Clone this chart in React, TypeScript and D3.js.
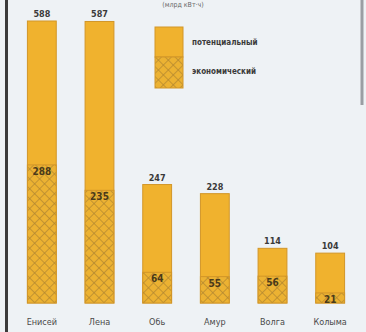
import React from "react";
import * as d3 from "d3";

const rivers = ["Енисей", "Лена", "Обь", "Амур", "Волга", "Колыма"];
const potential = [588, 587, 247, 228, 114, 104];
const economic = [288, 235, 64, 55, 56, 21];
const legendLabels = ["потенциальный", "экономический"];

const W = 366;
const H = 332;
const FONT = "'Liberation Sans Narrow', 'DejaVu Sans Condensed', 'Liberation Sans', sans-serif";

export default function App() {
  const x = d3.scaleBand<string>().domain(rivers).range([13, 359]).paddingInner(0.5).paddingOuter(0.25);
  const y = d3.scaleLinear().domain([0, 588]).range([303, 21]);
  const bw = x.bandwidth();
  const fill = "#f0b22e";
  const edge = "#d29628";

  return (
    <div style={{ position: "absolute", left: 0, top: 0 }}>
      <svg width={W} height={H} style={{ display: "block" }}>
        <defs>
          <pattern id="hatch" patternUnits="userSpaceOnUse" width={7} height={7} patternTransform="rotate(45)">
            <rect width={7} height={7} fill="#ecb232" />
            <line x1={0} y1={0} x2={0} y2={7} stroke="#b08530" strokeWidth={1.4} />
            <line x1={0} y1={0} x2={7} y2={0} stroke="#b08530" strokeWidth={1.4} />
          </pattern>
        </defs>
        <rect width={W} height={H} fill="#eef2f5" />
        <line x1={6.5} x2={6.5} y1={0} y2={H} stroke="#3b3b3b" strokeWidth={3} />
        <line x1={362} x2={362} y1={0} y2={105} stroke="#9a9ea3" strokeWidth={3} />
        <text x={183} y={7} fontFamily={FONT} fontSize={7} fill="#666" textAnchor="middle">
          (млрд кВт·ч)
        </text>
        {rivers.map((r, i) => {
          const x0 = x(r)!;
          const cx = x0 + bw / 2;
          const yp = y(potential[i]);
          const ye = y(economic[i]);
          return (
            <g key={r}>
              <rect x={x0} y={yp} width={bw} height={y(0) - yp} fill={fill} stroke={edge} strokeWidth={1} />
              <rect x={x0} y={ye} width={bw} height={y(0) - ye} fill="url(#hatch)" stroke={edge} strokeWidth={1} />
              <text x={cx} y={yp - 4} fontFamily={FONT} fontSize={9} fontWeight="bold" fill="#3a3a3a" textAnchor="middle">
                {potential[i]}
              </text>
              <text x={cx} y={ye + 10} fontFamily={FONT} fontSize={10} fontWeight="bold" fill="#4a3a1a" textAnchor="middle">
                {economic[i]}
              </text>
              <text x={cx} y={325} fontFamily={FONT} fontSize={9} fill="#4a4a4a" textAnchor="middle">
                {r}
              </text>
            </g>
          );
        })}
        <g>
          <rect x={155} y={27} width={28} height={30} fill={fill} stroke={edge} strokeWidth={1} />
          <rect x={155} y={57} width={28} height={31} fill="url(#hatch)" stroke={edge} strokeWidth={1} />
          <text x={192} y={45} fontFamily={FONT} fontSize={8} fontWeight="bold" fill="#3a3a3a">{legendLabels[0]}</text>
          <text x={192} y={74} fontFamily={FONT} fontSize={8} fontWeight="bold" fill="#3a3a3a">{legendLabels[1]}</text>
        </g>
      </svg>
    </div>
  );
}
